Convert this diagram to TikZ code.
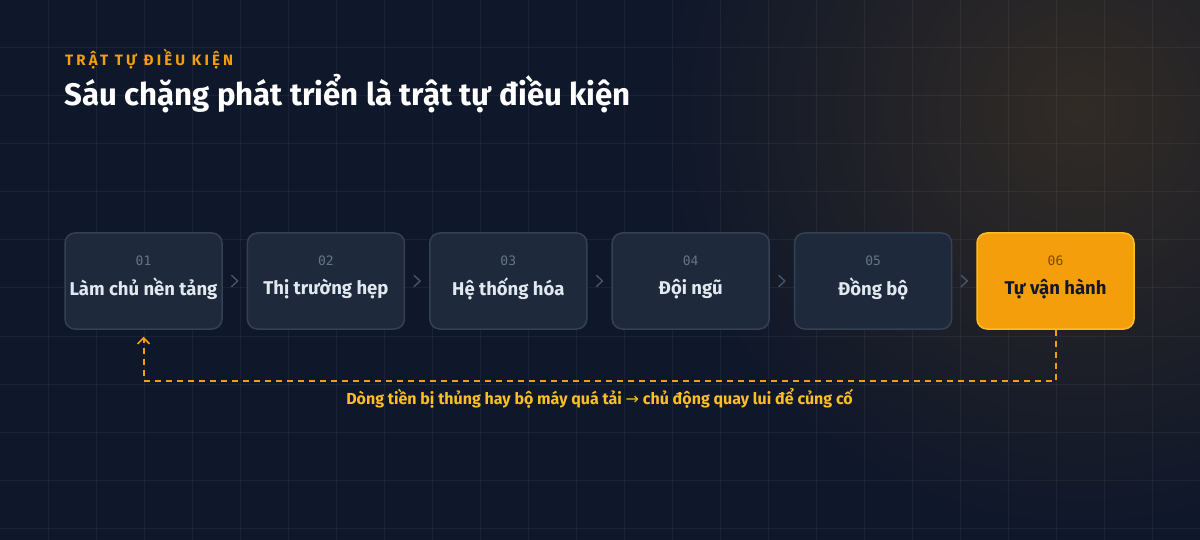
\documentclass[tikz,border=0pt]{standalone}
\usepackage{fontspec}
\setmainfont{Fira Sans}
\newfontfamily\numfont{DejaVu Sans Mono}
\newfontfamily\kickerfont[LetterSpace=21]{Fira Sans}
\newfontfamily\symfont{DejaVu Sans}
\usetikzlibrary{arrows.meta,positioning}

\definecolor{bgc}{HTML}{0F172A}
\definecolor{amber}{HTML}{F59E0B}
\definecolor{amberlight}{HTML}{FBBF24}
\definecolor{stagefill}{HTML}{1E293B}
\definecolor{stageline}{HTML}{334155}
\definecolor{numgrey}{HTML}{64748B}
\definecolor{labelgrey}{HTML}{E2E8F0}
\definecolor{chevgrey}{HTML}{475569}
\definecolor{darkbrown}{HTML}{7C4A06}
\definecolor{darkink}{HTML}{111827}
\colorlet{glowc}{amber!15!bgc}

\tikzset{
  gridline/.style={draw=white, draw opacity=0.05, line width=1},
  stage/.style={draw=stageline, fill=stagefill, line width=1.5, rounded corners=10,
    minimum width=157, minimum height=96, inner sep=0},
  stagelast/.style={stage, draw=amberlight, fill=amber},
  stagenum/.style={text=numgrey, font=\numfont\fontsize{13}{15}\selectfont, inner sep=0},
  stagelabel/.style={text=labelgrey, font=\bfseries\fontsize{18.5}{22}\selectfont, inner sep=0},
  chev/.style={draw=chevgrey, line width=1.4, line cap=round, line join=round},
  loopline/.style={draw=amber, line width=2, dash pattern=on 6 off 5,
    -{Straight Barb[length=6,width=12,line width=1.6]}},
}

\begin{document}
\begin{tikzpicture}[x=1pt,y=-1pt]
  \def\W{1200}
  \def\H{540}
  \def\rowy{281}
  \def\pitch{182.4}

  % background, glow and grid
  \useasboundingbox (0,0) rectangle (\W,\H);
  \fill[bgc] (-4,-4) rectangle (\W+4,\H+4);
  \begin{scope}
    \clip (-4,-4) rectangle (\W+4,\H+4);
    \shade[inner color=glowc, outer color=bgc] (1080,110) circle (420);
  \end{scope}
  \foreach \x in {48,96,...,1152} {
    \draw[gridline] (\x,0) -- (\x,\H);
  }
  \foreach \y in {0,48,...,528} {
    \draw[gridline] (0,\y) -- (\W,\y);
  }

  % heading
  \node[anchor=base west, inner sep=0, text=amber, font=\kickerfont\bfseries\fontsize{15}{17}\selectfont]
    (kicker) at (65,66) {TRẬT TỰ ĐIỀU KIỆN};
  \node[anchor=base west, inner sep=0, text=white, font=\bfseries\fontsize{31.2}{37}\selectfont]
    (title) at (64,106) {Sáu chặng phát triển là trật tự điều kiện};

  % stages
  \foreach \i/\txt in {1/Làm chủ nền tảng, 2/Thị trường hẹp, 3/Hệ thống hóa, 4/Đội ngũ, 5/Đồng bộ} {
    \pgfmathsetmacro\cx{143.5+(\i-1)*\pitch}
    \node[stage] (b\i) at (\cx,\rowy) {};
    \node[stagenum] (n\i) at (\cx,261) {0\i};
    \node[stagelabel] (t\i) at (\cx,289) {\txt};
  }
  \pgfmathsetmacro\cx{143.5+5*\pitch}
  \node[stagelast] (b6) at (\cx,\rowy) {};
  \node[stagenum, text=darkbrown] (n6) at (\cx,261) {06};
  \node[stagelabel, text=darkink] (t6) at (\cx,289) {Tự vận hành};

  % chevrons between stages
  \foreach \i [evaluate=\i as \j using int(\i+1)] in {1,...,5} {
    \path (b\i.east) -- (b\j.west) coordinate[midway] (c\i);
    \draw[chev] ([xshift=-3,yshift=5.5]c\i) -- ([xshift=3]c\i) -- ([xshift=-3,yshift=-5.5]c\i);
  }

  % feedback loop
  \coordinate (loopend) at ([yshift=-7]b1.south);
  \draw[loopline] (b6.south) -- ++(0,51) coordinate (loopcorner) -| (loopend);
  \path (loopcorner) -- (loopcorner -| loopend)
    node[midway, below=8pt, inner sep=0, text=amberlight, font=\fontsize{16}{19}\selectfont\bfseries]
    (loopnote) {Dòng tiền bị thủng hay bộ máy quá tải {\symfont\mdseries→} chủ động quay lui để củng cố};
\end{tikzpicture}
\end{document}
